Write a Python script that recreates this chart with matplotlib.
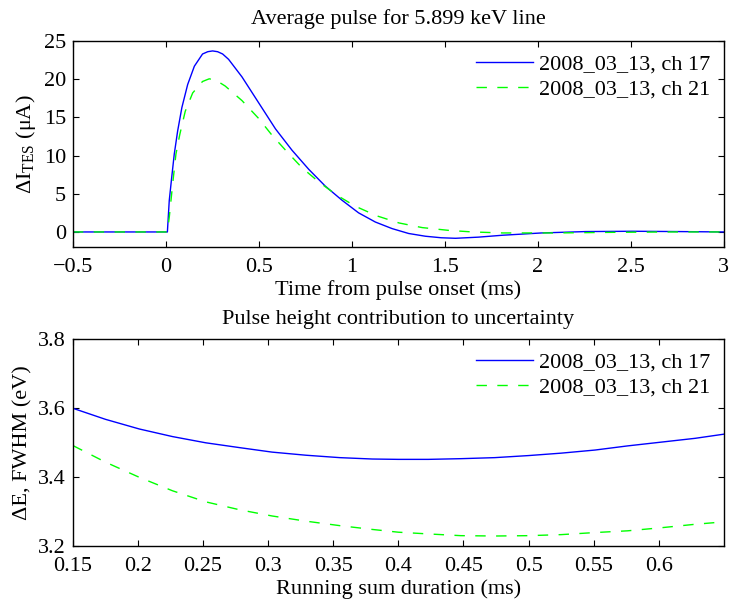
import numpy as np
import matplotlib
matplotlib.use("Agg")
import matplotlib.pyplot as plt

plt.rcParams['font.family'] = ['Liberation Serif', 'DejaVu Serif']
plt.rcParams['mathtext.fontset'] = 'custom'
plt.rcParams['mathtext.rm'] = 'Liberation Serif'
plt.rcParams['mathtext.it'] = 'Liberation Serif:italic'
plt.rcParams['font.size'] = 16

# --- average pulse (ms, uA)
t17 = [-0.5, 0.0, 0.008, 0.018, 0.031, 0.045, 0.063, 0.086, 0.117, 0.153,
       0.197, 0.225, 0.251, 0.278, 0.305, 0.337, 0.409, 0.499, 0.589, 0.678,
       0.768, 0.857, 0.947, 1.036, 1.126, 1.216, 1.305, 1.395, 1.48, 1.557,
       1.68, 1.81, 2.02, 2.256, 2.51, 2.76, 3.0]
i17 = [0, 0, 0, 4.1, 7.1, 10.2, 13.2, 16.3, 19.3, 21.7,
       23.3, 23.6, 23.7, 23.6, 23.3, 22.6, 20.3, 16.9, 13.5, 10.7,
       8.2, 6.0, 4.15, 2.5, 1.3, 0.44, -0.2, -0.56, -0.76, -0.83,
       -0.68, -0.43, -0.13, 0.05, 0.09, 0.05, 0.0]

t21 = [-0.5, 0.0, 0.008, 0.018, 0.036, 0.054, 0.075, 0.104, 0.144, 0.197,
       0.233, 0.27, 0.319, 0.409, 0.499, 0.571, 0.651, 0.732, 0.822, 0.92,
       1.019, 1.135, 1.253, 1.378, 1.523, 1.65, 1.81, 2.1, 2.4, 2.7, 3.0]
i21 = [0, 0, 0, 1.9, 6.2, 10.2, 12.8, 15.8, 18.2, 19.7,
       20.05, 19.85, 19.1, 17.2, 14.85, 12.65, 10.5, 8.4, 6.55, 4.8,
       3.36, 2.1, 1.18, 0.57, 0.2, 0.0, -0.13, -0.13, -0.05, 0.0, 0.0]

# --- resolution vs running sum duration (ms, eV)
dur = [0.15, 0.175, 0.201, 0.2265, 0.252, 0.278, 0.303, 0.329, 0.355, 0.380,
       0.400, 0.423, 0.448, 0.474, 0.500, 0.525, 0.551, 0.576, 0.602, 0.628, 0.65]
de17 = [3.599, 3.567, 3.539, 3.517, 3.499, 3.485, 3.472, 3.463, 3.456, 3.452,
        3.451, 3.451, 3.453, 3.456, 3.462, 3.469, 3.478, 3.490, 3.501, 3.512, 3.524]
de21 = [3.491, 3.443, 3.399, 3.360, 3.328, 3.305, 3.287, 3.272, 3.259, 3.248,
        3.240, 3.235, 3.230, 3.229, 3.230, 3.233, 3.239, 3.244, 3.253, 3.263, 3.270]

labels = ['2008_03_13, ch 17', '2008_03_13, ch 21']
c17 = '#0000ff'
c21 = '#00ff00'
dash = (0, (7.5, 7.5))

fig = plt.figure(figsize=(7.29, 6.03), dpi=100)
ax1 = fig.add_axes([0.100, 0.590, 0.893, 0.342])
ax2 = fig.add_axes([0.100, 0.0945, 0.893, 0.3435])

def style(ax):
    ax.tick_params(direction='in', length=4.5, top=True, right=True)
    ax.tick_params(axis='x', pad=8)
    ax.tick_params(axis='y', pad=5)
    for s in ax.spines.values():
        s.set_linewidth(1.0)

ax1.plot(t17, i17, color=c17, lw=1.0, label=labels[0])
ax1.plot(t21, i21, color=c21, lw=1.0, ls=dash, label=labels[1])
ax1.set_xlim(-0.5, 3)
ax1.set_ylim(-2, 25)
ax1.set_xticks([-0.5, 0, 0.5, 1, 1.5, 2, 2.5, 3])
ax1.set_xticklabels(['\u22120.5', '0', '0.5', '1', '1.5', '2', '2.5', '3'])
ax1.set_yticks([0, 5, 10, 15, 20, 25])
ax1.set_title('Average pulse for 5.899 keV line', fontsize=16, pad=12)
ax1.set_xlabel('Time from pulse onset (ms)', labelpad=2)
ax1.set_ylabel('\u0394I$_{\\mathrm{TES}}$ (\u03bcA)', labelpad=4)
style(ax1)

ax2.plot(dur, de17, color=c17, lw=1.0, label=labels[0])
ax2.plot(dur, de21, color=c21, lw=1.0, ls=dash, label=labels[1])
ax2.set_xlim(0.15, 0.65)
ax2.set_ylim(3.2, 3.8)
ax2.set_xticks([0.15, 0.2, 0.25, 0.3, 0.35, 0.4, 0.45, 0.5, 0.55, 0.6])
ax2.set_xticklabels(['0.15', '0.2', '0.25', '0.3', '0.35', '0.4', '0.45', '0.5', '0.55', '0.6'])
ax2.set_yticks([3.2, 3.4, 3.6, 3.8])
ax2.set_title('Pulse height contribution to uncertainty', fontsize=16, pad=11)
ax2.set_xlabel('Running sum duration (ms)', labelpad=2)
ax2.set_ylabel('\u0394E, FWHM (eV)', labelpad=4)
style(ax2)

for ax in (ax1, ax2):
    ax.legend(loc='upper right', frameon=False, fontsize=16,
              handlelength=2.6, handletextpad=0.27, labelspacing=0.2,
              borderaxespad=0.2)

fig.savefig('out.png', dpi=100)
